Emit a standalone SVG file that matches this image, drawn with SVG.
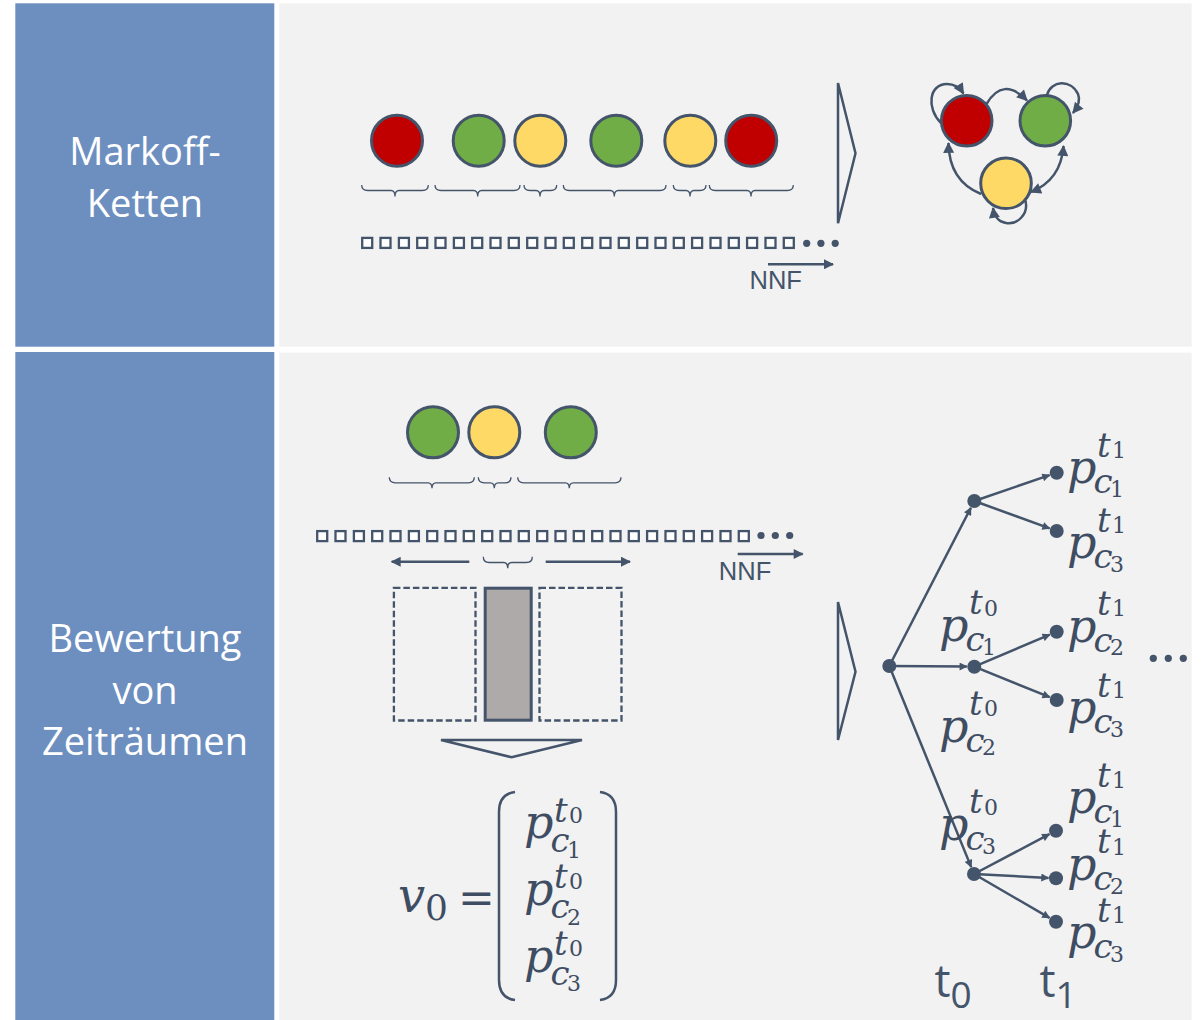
<svg xmlns="http://www.w3.org/2000/svg" width="1201" height="1020" viewBox="0 0 1201 1020">
  <style>
    .side { fill: #6D8FBF; }
    .pane { fill: #F2F2F2; }
    .lbl { font-family: "Open Sans", "Noto Sans", sans-serif; font-size: 38px; fill: #FFFFFF; text-anchor: middle; }
    .ln { stroke: #44546A; stroke-width: 2.5; fill: none; }
    .br { stroke: #44546A; stroke-width: 1.3; fill: none; }
    .chev { stroke: #44546A; stroke-width: 2.5; fill: none; stroke-linejoin: miter; }
    .st { stroke: #44546A; stroke-width: 3; }
    .red { fill: #C00000; }
    .grn { fill: #70AD47; }
    .yel { fill: #FFD966; }
    .dot { fill: #44546A; }
    .sq { fill: #FFFFFF; stroke: #44546A; stroke-width: 2.3; }
    .dash { fill: none; stroke: #44546A; stroke-width: 2.3; stroke-dasharray: 6.5 3; }
    .nnf { font-family: "Liberation Sans", Arial, sans-serif; font-size: 25.5px; fill: #44546A; }
    .m { font-family: "DejaVu Serif", "Liberation Serif", serif; fill: #3F4D63; }
    .mi { font-style: italic; font-size: 46px; }
    .ms { font-style: italic; font-size: 34px; }
    .md { font-style: normal; font-size: 22px; }
    .tl { font-family: "Open Sans", "Noto Sans", sans-serif; fill: #44546A; }
  </style>
  <defs>
    <marker id="ahT" viewBox="0 0 10 10" refX="9" refY="5" markerUnits="userSpaceOnUse" markerWidth="10" markerHeight="8" orient="auto">
      <path d="M0,0 L10,5 L0,10 z" fill="#44546A"/>
    </marker>
    <marker id="ahM" viewBox="0 0 10 10" refX="9" refY="5" markerUnits="userSpaceOnUse" markerWidth="12" markerHeight="11" orient="auto-start-reverse">
      <path d="M0,0 L10,5 L0,10 z" fill="#44546A"/>
    </marker>
    <marker id="ahL" viewBox="0 0 10 10" refX="9" refY="5" markerUnits="userSpaceOnUse" markerWidth="15" markerHeight="10" orient="auto">
      <path d="M0,0 L10,5 L0,10 z" fill="#44546A"/>
    </marker>
    <rect id="sq" class="sq" width="10" height="10"/>
  </defs>

  <rect width="1201" height="1020" fill="#FFFFFF"/>

  <!-- panels -->
  <g id="panel-markov">
    <rect class="side" x="15.3" y="3.3" width="259" height="343.4"/>
    <rect class="pane" x="279.3" y="3.3" width="912.4" height="343.4"/>
    <text class="lbl"><tspan x="145" y="165">Markoff-</tspan><tspan x="145" y="216.7">Ketten</tspan></text>
  </g>
  <g id="panel-zeitraum">
    <rect class="side" x="15.3" y="352" width="259" height="668"/>
    <rect class="pane" x="279.3" y="352.7" width="912.4" height="667.3"/>
    <text class="lbl"><tspan x="145" y="652">Bewertung</tspan><tspan x="145" y="703.5">von</tspan><tspan x="145" y="755">Zeiträumen</tspan></text>
  </g>

  <!-- top row: state sequence -->
  <g id="seq-top">
    <circle class="st red" cx="397" cy="140.7" r="25.5"/>
    <circle class="st grn" cx="478.7" cy="140.7" r="25.5"/>
    <circle class="st yel" cx="540.3" cy="140.7" r="25.5"/>
    <circle class="st grn" cx="616.3" cy="140.7" r="25.5"/>
    <circle class="st yel" cx="690.3" cy="140.7" r="25.5"/>
    <circle class="st red" cx="751.2" cy="140.7" r="25.5"/>
  </g>
  <g id="braces-top">
    <path class="br" d="M361.7,185 Q361.7,190.5 367.7,190.5 L391,190.5 Q395,190.5 395,196.5 Q395,190.5 399,190.5 L422.3,190.5 Q428.3,190.5 428.3,185"/>
    <path class="br" d="M435,185 Q435,190.5 441,190.5 L473.7,190.5 Q477.7,190.5 477.7,196.5 Q477.7,190.5 481.7,190.5 L514,190.5 Q520,190.5 520,185"/>
    <path class="br" d="M524,185 Q524,190.5 530,190.5 L536,190.5 Q540,190.5 540,196.5 Q540,190.5 544,190.5 L550.7,190.5 Q556.7,190.5 556.7,185"/>
    <path class="br" d="M563.3,185 Q563.3,190.5 569.3,190.5 L610.3,190.5 Q614.3,190.5 614.3,196.5 Q614.3,190.5 618.3,190.5 L660,190.5 Q666,190.5 666,185"/>
    <path class="br" d="M673.3,185 Q673.3,190.5 679.3,190.5 L686,190.5 Q690,190.5 690,196.5 Q690,190.5 694,190.5 L700,190.5 Q706,190.5 706,185"/>
    <path class="br" d="M709.3,185 Q709.3,190.5 715.3,190.5 L747,190.5 Q751,190.5 751,196.5 Q751,190.5 755,190.5 L787.3,190.5 Q793.3,190.5 793.3,185"/>
  </g>
  <g id="samples-top">
    <use href="#sq" x="362.2" y="237.9"/><use href="#sq" x="380.5" y="237.9"/><use href="#sq" x="398.9" y="237.9"/><use href="#sq" x="417.2" y="237.9"/>
    <use href="#sq" x="435.5" y="237.9"/><use href="#sq" x="453.9" y="237.9"/><use href="#sq" x="472.2" y="237.9"/><use href="#sq" x="490.5" y="237.9"/>
    <use href="#sq" x="508.8" y="237.9"/><use href="#sq" x="527.2" y="237.9"/><use href="#sq" x="545.5" y="237.9"/><use href="#sq" x="563.8" y="237.9"/>
    <use href="#sq" x="582.2" y="237.9"/><use href="#sq" x="600.5" y="237.9"/><use href="#sq" x="618.8" y="237.9"/><use href="#sq" x="637.2" y="237.9"/>
    <use href="#sq" x="655.5" y="237.9"/><use href="#sq" x="673.8" y="237.9"/><use href="#sq" x="692.1" y="237.9"/><use href="#sq" x="710.5" y="237.9"/>
    <use href="#sq" x="728.8" y="237.9"/><use href="#sq" x="747.1" y="237.9"/><use href="#sq" x="765.5" y="237.9"/><use href="#sq" x="783.8" y="237.9"/>
    <circle class="dot" cx="806.7" cy="243.3" r="3.6"/>
    <circle class="dot" cx="820.9" cy="243.3" r="3.6"/>
    <circle class="dot" cx="835.2" cy="243.3" r="3.6"/>
    <line class="ln" x1="768" y1="264.3" x2="833" y2="264.3" marker-end="url(#ahL)"/>
    <text class="nnf" x="749.5" y="289.3">NNF</text>
  </g>
  <polygon id="chevron-top" class="chev" points="838,83 855.5,153.3 838,223.3"/>

  <!-- Markov chain states -->
  <g id="state-red"><circle class="st red" cx="966.7" cy="120.7" r="25.3"/></g>
  <g id="state-green"><circle class="st grn" cx="1045.3" cy="120.7" r="25.3"/></g>
  <g id="state-yellow"><circle class="st yel" cx="1006" cy="183.3" r="25.3"/></g>
  <g id="markov-transitions">
    <path class="ln" d="M941,123 C926,108 929,84 947,84 C955,84 960,88 963.5,93.5" marker-end="url(#ahM)"/>
    <path class="ln" d="M986.5,104 Q1003,76 1027,100.5" marker-end="url(#ahM)"/>
    <path class="ln" d="M1047,95 C1051,80 1071,79 1078,94 C1081,101 1077,108 1073,113" marker-end="url(#ahM)"/>
    <path class="ln" d="M981,194 Q949,181 948.5,143" marker-end="url(#ahM)"/>
    <path class="ln" d="M1031,192 Q1061,180 1063.5,146" marker-start="url(#ahM)" marker-end="url(#ahM)"/>
    <path class="ln" d="M1025,199 C1030,215 1016,225 1006,223 C998,222 994,215 993,208" marker-end="url(#ahM)"/>
  </g>

  <!-- bottom: state sequence with window -->
  <g id="seq-bottom">
    <circle class="st grn" cx="433" cy="432.3" r="25.5"/>
    <circle class="st yel" cx="494.3" cy="432.3" r="25.5"/>
    <circle class="st grn" cx="570.8" cy="432.3" r="25.5"/>
  </g>
  <g id="braces-bottom">
    <path class="br" d="M389.3,477.3 Q389.3,482.8 395.3,482.8 L428,482.8 Q432,482.8 432,488.3 Q432,482.8 436,482.8 L468.3,482.8 Q474.3,482.8 474.3,477.3"/>
    <path class="br" d="M478.3,477.3 Q478.3,482.8 484.3,482.8 L490.3,482.8 Q494.3,482.8 494.3,488.3 Q494.3,482.8 498.3,482.8 L505,482.8 Q511,482.8 511,477.3"/>
    <path class="br" d="M517.7,477.3 Q517.7,482.8 523.7,482.8 L565.3,482.8 Q569.3,482.8 569.3,488.3 Q569.3,482.8 573.3,482.8 L615,482.8 Q621,482.8 621,477.3"/>
    <path class="br" d="M483.3,556.7 Q483.3,562.5 489.3,562.5 L503.7,562.5 Q507.7,562.5 507.7,568.3 Q507.7,562.5 511.7,562.5 L526.3,562.5 Q532.3,562.5 532.3,556.7"/>
  </g>
  <g id="samples-bottom">
    <use href="#sq" x="317.2" y="531.1"/><use href="#sq" x="335.5" y="531.1"/><use href="#sq" x="353.9" y="531.1"/><use href="#sq" x="372.2" y="531.1"/>
    <use href="#sq" x="390.5" y="531.1"/><use href="#sq" x="408.9" y="531.1"/><use href="#sq" x="427.2" y="531.1"/><use href="#sq" x="445.5" y="531.1"/>
    <use href="#sq" x="463.8" y="531.1"/><use href="#sq" x="482.2" y="531.1"/><use href="#sq" x="500.5" y="531.1"/><use href="#sq" x="518.8" y="531.1"/>
    <use href="#sq" x="537.2" y="531.1"/><use href="#sq" x="555.5" y="531.1"/><use href="#sq" x="573.8" y="531.1"/><use href="#sq" x="592.2" y="531.1"/>
    <use href="#sq" x="610.5" y="531.1"/><use href="#sq" x="628.8" y="531.1"/><use href="#sq" x="647.1" y="531.1"/><use href="#sq" x="665.5" y="531.1"/>
    <use href="#sq" x="683.8" y="531.1"/><use href="#sq" x="702.1" y="531.1"/><use href="#sq" x="720.5" y="531.1"/><use href="#sq" x="738.8" y="531.1"/>
    <circle class="dot" cx="761" cy="535.5" r="3.6"/>
    <circle class="dot" cx="775.3" cy="535.5" r="3.6"/>
    <circle class="dot" cx="789.7" cy="535.5" r="3.6"/>
    <line class="ln" x1="737.7" y1="554" x2="802.7" y2="554" marker-end="url(#ahL)"/>
    <text class="nnf" x="718.8" y="580">NNF</text>
    <line class="ln" x1="469.3" y1="561.7" x2="391.7" y2="561.7" marker-end="url(#ahL)"/>
    <line class="ln" x1="545.7" y1="561.7" x2="630" y2="561.7" marker-end="url(#ahL)"/>
  </g>
  <g id="window">
    <rect class="dash" x="393.9" y="587.9" width="81.6" height="132.6"/>
    <rect x="485.2" y="588.2" width="46" height="132" fill="#AEAAAA" stroke="#44546A" stroke-width="3"/>
    <rect class="dash" x="539.5" y="587.9" width="82" height="132.6"/>
  </g>
  <polygon id="chevron-down" class="chev" points="441,740 582,740 511.7,757.3"/>

  <!-- probability vector -->
  <g id="vector" class="m">
    <text x="398" y="912"><tspan class="mi" style="font-size:48px">v</tspan><tspan style="font-size:36px" x="425" y="920">0</tspan></text>
    <text x="458" y="913" style="font-size:44px">=</text>
    <path class="ln" d="M515,792 Q499,794 499,812 L499,980 Q499,998 515,1000"/>
    <path class="ln" d="M600,792 Q616,794 616,812 L616,980 Q616,998 600,1000"/>
    <text x="524" y="838.3"><tspan class="mi">p</tspan><tspan class="ms" x="554" y="821.7">t</tspan><tspan class="md" x="569" y="822.5">0</tspan><tspan class="ms" x="550.5" y="851.7">c</tspan><tspan class="md" x="567" y="858">1</tspan></text>
    <text x="524" y="905"><tspan class="mi">p</tspan><tspan class="ms" x="554" y="888.3">t</tspan><tspan class="md" x="569" y="889">0</tspan><tspan class="ms" x="550.5" y="918.3">c</tspan><tspan class="md" x="567" y="924.6">2</tspan></text>
    <text x="524" y="971.6"><tspan class="mi">p</tspan><tspan class="ms" x="554" y="955">t</tspan><tspan class="md" x="569" y="955.7">0</tspan><tspan class="ms" x="550.5" y="985">c</tspan><tspan class="md" x="567" y="991.3">3</tspan></text>
  </g>

  <polygon id="chevron-bottom" class="chev" points="838,602 855.5,671.7 838,740"/>

  <!-- decision tree: connectors -->
  <g id="tree-edges">
    <line class="ln" x1="889.3" y1="666" x2="970.9" y2="507.7" marker-end="url(#ahT)"/>
    <line class="ln" x1="889.3" y1="666" x2="966.8" y2="666.6" marker-end="url(#ahT)"/>
    <line class="ln" x1="889.3" y1="666" x2="971.2" y2="867.1" marker-end="url(#ahT)"/>
    <line class="ln" x1="974.3" y1="501" x2="1049.6" y2="475.1" marker-end="url(#ahT)"/>
    <line class="ln" x1="974.3" y1="501" x2="1049.6" y2="528.4" marker-end="url(#ahT)"/>
    <line class="ln" x1="974.3" y1="666.7" x2="1049.8" y2="634.6" marker-end="url(#ahT)"/>
    <line class="ln" x1="974.3" y1="666.7" x2="1049.7" y2="697.2" marker-end="url(#ahT)"/>
    <line class="ln" x1="974" y1="874" x2="1049.4" y2="834.2" marker-end="url(#ahT)"/>
    <line class="ln" x1="974" y1="874" x2="1048.5" y2="877.9" marker-end="url(#ahT)"/>
    <line class="ln" x1="974" y1="874" x2="1049.5" y2="917.9" marker-end="url(#ahT)"/>
  </g>

  <!-- decision tree: nodes -->
  <g id="tree-root"><circle class="dot" cx="889.3" cy="666" r="7"/></g>
  <g id="tree-t0">
    <circle class="dot" cx="974.3" cy="501" r="7"/>
    <circle class="dot" cx="974.3" cy="666.7" r="7"/>
    <circle class="dot" cx="974" cy="874" r="7"/>
  </g>
  <g id="tree-t1">
    <circle class="dot" cx="1056.7" cy="472.7" r="7"/>
    <circle class="dot" cx="1056.7" cy="531" r="7"/>
    <circle class="dot" cx="1056.7" cy="631.7" r="7"/>
    <circle class="dot" cx="1056.7" cy="700" r="7"/>
    <circle class="dot" cx="1056" cy="830.7" r="7"/>
    <circle class="dot" cx="1056" cy="878.3" r="7"/>
    <circle class="dot" cx="1056" cy="921.7" r="7"/>
  </g>
  <g id="tree-more">
    <circle class="dot" cx="1153.3" cy="658.3" r="3.6"/>
    <circle class="dot" cx="1168.3" cy="658.3" r="3.6"/>
    <circle class="dot" cx="1183.3" cy="658.3" r="3.6"/>
  </g>

  <!-- decision tree: probability labels -->
  <g id="tree-labels" class="m">
    <text x="1067" y="483.3"><tspan class="mi">p</tspan><tspan class="ms" x="1097" y="456.7">t</tspan><tspan class="md" x="1112" y="458">1</tspan><tspan class="ms" x="1093.5" y="493.3">c</tspan><tspan class="md" x="1110" y="497">1</tspan></text>
    <text x="1067" y="558.3"><tspan class="mi">p</tspan><tspan class="ms" x="1097" y="531.7">t</tspan><tspan class="md" x="1112" y="533">1</tspan><tspan class="ms" x="1093.5" y="568.3">c</tspan><tspan class="md" x="1110" y="572">3</tspan></text>
    <text x="939" y="641"><tspan class="mi">p</tspan><tspan class="ms" x="969" y="614.3">t</tspan><tspan class="md" x="984" y="615.6">0</tspan><tspan class="ms" x="965.5" y="651">c</tspan><tspan class="md" x="982" y="654.7">1</tspan></text>
    <text x="1067" y="641.7"><tspan class="mi">p</tspan><tspan class="ms" x="1097" y="615">t</tspan><tspan class="md" x="1112" y="616.3">1</tspan><tspan class="ms" x="1093.5" y="651.7">c</tspan><tspan class="md" x="1110" y="655.4">2</tspan></text>
    <text x="1067" y="723.3"><tspan class="mi">p</tspan><tspan class="ms" x="1097" y="696.7">t</tspan><tspan class="md" x="1112" y="698">1</tspan><tspan class="ms" x="1093.5" y="733.3">c</tspan><tspan class="md" x="1110" y="737">3</tspan></text>
    <text x="939" y="741.7"><tspan class="mi">p</tspan><tspan class="ms" x="969" y="715">t</tspan><tspan class="md" x="984" y="716.3">0</tspan><tspan class="ms" x="965.5" y="751.7">c</tspan><tspan class="md" x="982" y="755.4">2</tspan></text>
    <text x="939" y="840"><tspan class="mi">p</tspan><tspan class="ms" x="969" y="813.3">t</tspan><tspan class="md" x="984" y="814.6">0</tspan><tspan class="ms" x="965.5" y="850">c</tspan><tspan class="md" x="982" y="853.7">3</tspan></text>
    <text x="1067" y="813.3"><tspan class="mi">p</tspan><tspan class="ms" x="1097" y="786.7">t</tspan><tspan class="md" x="1112" y="788">1</tspan><tspan class="ms" x="1093.5" y="823.3">c</tspan><tspan class="md" x="1110" y="827">1</tspan></text>
    <text x="1067" y="880"><tspan class="mi">p</tspan><tspan class="ms" x="1097" y="853.3">t</tspan><tspan class="md" x="1112" y="854.6">1</tspan><tspan class="ms" x="1093.5" y="890">c</tspan><tspan class="md" x="1110" y="893.7">2</tspan></text>
    <text x="1067" y="948.3"><tspan class="mi">p</tspan><tspan class="ms" x="1097" y="921.7">t</tspan><tspan class="md" x="1112" y="923">1</tspan><tspan class="ms" x="1093.5" y="958.3">c</tspan><tspan class="md" x="1110" y="962">3</tspan></text>
  </g>

  <!-- time axis -->
  <g id="time-axis" class="tl">
    <text x="934.5" y="997" style="font-size:45px">t<tspan style="font-size:37px" y="1008">0</tspan></text>
    <text x="1039.5" y="997" style="font-size:45px">t<tspan style="font-size:37px" y="1008">1</tspan></text>
  </g>
</svg>
